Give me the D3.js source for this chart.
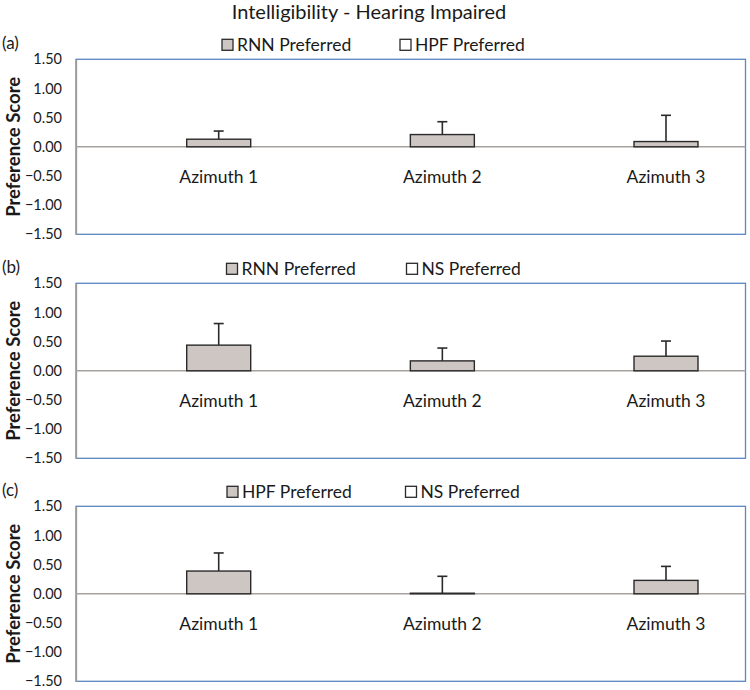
<!DOCTYPE html>
<html lang="en">
<head>
    <meta charset="utf-8">
    <title>Intelligibility - Hearing Impaired</title>
    <script src="https://d3js.org/d3.v7.min.js"></script>
    <style>
        body { margin: 0; background: #fff; }
        text { font-family: Lato, "Open Sans", sans-serif; fill: #1a1a1a; }
    </style>
</head>
<body>
    <div id="chart-container"></div>

    <script>
        // data
        const categories = ['Azimuth 1', 'Azimuth 2', 'Azimuth 3'];
        const panelLabels = ['(a)', '(b)', '(c)'];
        const legendFirst = ['RNN Preferred', 'RNN Preferred', 'HPF Preferred'];
        const legendSecond = ['HPF Preferred', 'NS Preferred', 'NS Preferred'];
        const meanScores = [
            [0.13, 0.21, 0.09],
            [0.44, 0.17, 0.25],
            [0.39, 0.01, 0.23]
        ];
        const errorTops = [
            [0.27, 0.43, 0.54],
            [0.81, 0.39, 0.51],
            [0.70, 0.30, 0.47]
        ];
        const yTicks = [1.5, 1.0, 0.5, 0, -0.5, -1.0, -1.5];

        const width = 750;
        const height = 690;

        const plotLeft = 76;
        const plotRight = 745.5;
        const panelTops = [59.3, 283.3, 506.3];
        const plotHeight = 175;
        const barWidth = 64;
        // legend swatch x positions per panel
        const legendX = [[222, 400], [226.5, 406.5], [227, 405.5]];

        const svg = d3.select('#chart-container')
            .append('svg')
            .attr('width', width)
            .attr('height', height);

        // Title
        svg.append('text')
            .attr('x', 369)
            .attr('y', 19)
            .attr('text-anchor', 'middle')
            .style('font-size', '20px')
            .text('Intelligibility - Hearing Impaired');

        const xScale = d3.scalePoint()
            .domain(categories)
            .range([218.7, 666]);

        function drawPanel(p) {
            const top = panelTops[p];
            const yScale = d3.scaleLinear()
                .domain([-1.5, 1.5])
                .range([top + plotHeight, top]);

            const g = svg.append('g').attr('class', 'panel');

            // plot box (blue)
            g.append('rect')
                .attr('x', plotLeft)
                .attr('y', yScale(1.5))
                .attr('width', plotRight - plotLeft)
                .attr('height', yScale(-1.5) - yScale(1.5))
                .style('fill', 'none')
                .style('stroke', '#5b87bf')
                .style('stroke-width', 1.3);

            // y axis
            const yAxis = d3.axisLeft(yScale)
                .tickValues(yTicks)
                .tickSize(0)
                .tickPadding(14)
                .tickFormat(d3.format('.2f'));
            const ax = g.append('g')
                .attr('transform', `translate(${plotLeft},0)`)
                .call(yAxis);
            ax.select('.domain').style('stroke', '#9a9a9a').style('stroke-width', 1.3);
            ax.selectAll('text')
                .style('font-size', '14.5px')
                .style('font-family', 'Lato, sans-serif')
                .style('fill', '#1a1a1a');

            // zero line
            g.append('line')
                .attr('x1', plotLeft)
                .attr('x2', plotRight)
                .attr('y1', yScale(0))
                .attr('y2', yScale(0))
                .style('stroke', '#a8a29f')
                .style('stroke-width', 1.6);

            // error bars (upper only)
            categories.forEach((c, i) => {
                const cx = xScale(c);
                g.append('line')
                    .attr('x1', cx).attr('x2', cx)
                    .attr('y1', yScale(meanScores[p][i]))
                    .attr('y2', yScale(errorTops[p][i]))
                    .style('stroke', '#2a2a2a')
                    .style('stroke-width', 1.6);
                g.append('line')
                    .attr('x1', cx - 5).attr('x2', cx + 5)
                    .attr('y1', yScale(errorTops[p][i]))
                    .attr('y2', yScale(errorTops[p][i]))
                    .style('stroke', '#2a2a2a')
                    .style('stroke-width', 1.6);
            });

            // bars
            g.selectAll('rect.bar')
                .data(categories)
                .enter()
                .append('rect')
                .attr('class', 'bar')
                .attr('x', d => xScale(d) - barWidth / 2)
                .attr('y', (d, i) => yScale(meanScores[p][i]))
                .attr('width', barWidth)
                .attr('height', (d, i) => yScale(0) - yScale(meanScores[p][i]))
                .style('fill', '#cdc6c3')
                .style('stroke', '#2a2a2a')
                .style('stroke-width', 1.4);

            // category labels
            g.selectAll('text.cat')
                .data(categories)
                .enter()
                .append('text')
                .attr('class', 'cat')
                .attr('x', d => xScale(d))
                .attr('y', yScale(0) + 36)
                .attr('text-anchor', 'middle')
                .style('font-size', '17.5px')
                .text(d => d);

            // y axis title
            g.append('text')
                .attr('transform', `translate(20,${yScale(0)}) rotate(-90)`)
                .attr('text-anchor', 'middle')
                .style('font-size', '18.5px')
                .style('font-weight', 'bold')
                .text('Preference Score');

            // panel label
            g.append('text')
                .attr('x', 2)
                .attr('y', top - 10)
                .style('font-size', '17px')
                .text(panelLabels[p]);

            // legend
            const legendData = [
                { label: legendFirst[p], x: legendX[p][0], fill: '#cdc6c3' },
                { label: legendSecond[p], x: legendX[p][1], fill: '#ffffff' }
            ];
            const lg = g.append('g');
            lg.selectAll('rect')
                .data(legendData)
                .enter()
                .append('rect')
                .attr('x', d => d.x)
                .attr('y', top - 20)
                .attr('width', 11)
                .attr('height', 11)
                .style('fill', d => d.fill)
                .style('stroke', '#2a2a2a')
                .style('stroke-width', 1.3);
            lg.selectAll('text')
                .data(legendData)
                .enter()
                .append('text')
                .attr('x', d => d.x + 15)
                .attr('y', top - 8.5)
                .style('font-size', '17.5px')
                .text(d => d.label);
        }

        panelTops.forEach((t, p) => drawPanel(p));
    </script>
</body>
</html>
